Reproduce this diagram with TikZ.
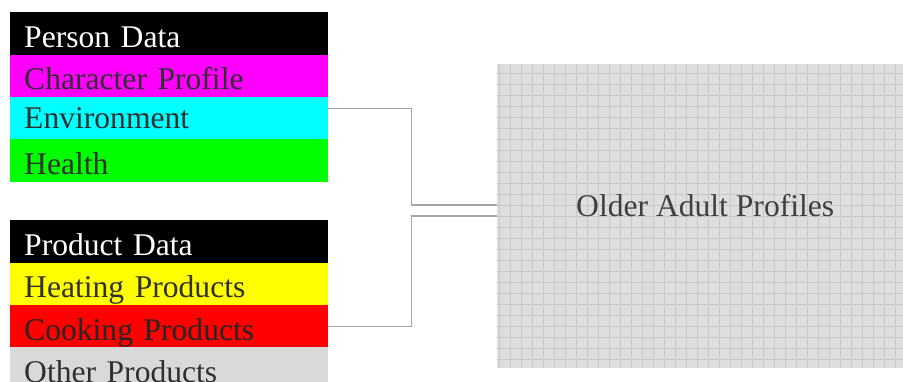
\documentclass[tikz,border=0pt]{standalone}
\usepackage{fontspec}
\setmainfont{Liberation Serif}
\usepackage{tikz}
\usetikzlibrary{positioning}

\definecolor{inkdark}{HTML}{303030}
\definecolor{linkgray}{HTML}{A6A6A6}
\definecolor{othergray}{HTML}{D9D9D9}
\definecolor{boxgray}{HTML}{DEDEDE}
\definecolor{gridgray}{HTML}{C8C8C8}
\definecolor{labelgray}{HTML}{404040}
\definecolor{pinkband}{HTML}{FF00FF}
\definecolor{cyanband}{HTML}{00FFFF}
\definecolor{greenband}{HTML}{00FF00}
\definecolor{yellowband}{HTML}{FFFF00}
\definecolor{redband}{HTML}{FF0000}

\tikzset{
  band/.style={rectangle, inner xsep=14pt, inner ysep=0pt, text width=290pt,
    minimum width=318pt, minimum height=42.6pt, align=left,
    text height=35.4pt, text depth=7.2pt, text=inkdark,
    font=\fontsize{31.6}{38}\selectfont},
  link/.style={draw=linkgray, line width=1.5pt}
}

\begin{document}
\begin{tikzpicture}[x=1pt,y=-1pt]
\useasboundingbox (0,0) rectangle (903,382);

% Person data stack
\node[band, fill=black, text=white, anchor=north west] (person) at (10,12) {Person Data};
\node[band, fill=pinkband, below=-0.6pt of person] (character) {Character Profile};
\node[band, fill=cyanband, below=-0.6pt of character, text height=31.4pt, text depth=11.2pt] (environment) {Environment};
\node[band, fill=greenband, below=-0.6pt of environment] (health) {Health};

% Product data stack
\node[band, fill=black, text=white, anchor=north west] (product) at (10,220) {Product Data};
\node[band, fill=yellowband, below=-0.6pt of product] (heating) {Heating Products};
\node[band, fill=redband, below=-0.6pt of heating, text=black!85] (cooking) {Cooking Products};
\node[band, fill=othergray, below=-0.6pt of cooking] (other) {Other Products};

% Profiles box
\node[rectangle, fill=boxgray, anchor=north west, minimum width=416pt, minimum height=304pt,
  inner sep=0pt, text height=12pt, text depth=12pt, text=labelgray,
  font=\fontsize{31.6}{38}\selectfont,
  path picture={\draw[gridgray, line width=0.5pt, step=11pt]
    (path picture bounding box.south west) grid (path picture bounding box.north east);}]
  (profiles) at (497,64) {Older Adult Profiles};

% Connectors
\draw[link] ([yshift=10pt]environment.east) -- ++(83,0) |- ([yshift=11pt]profiles.west);
\draw[link] (cooking.east) -- ++(83,0) |- (profiles.west);

\end{tikzpicture}
\end{document}
